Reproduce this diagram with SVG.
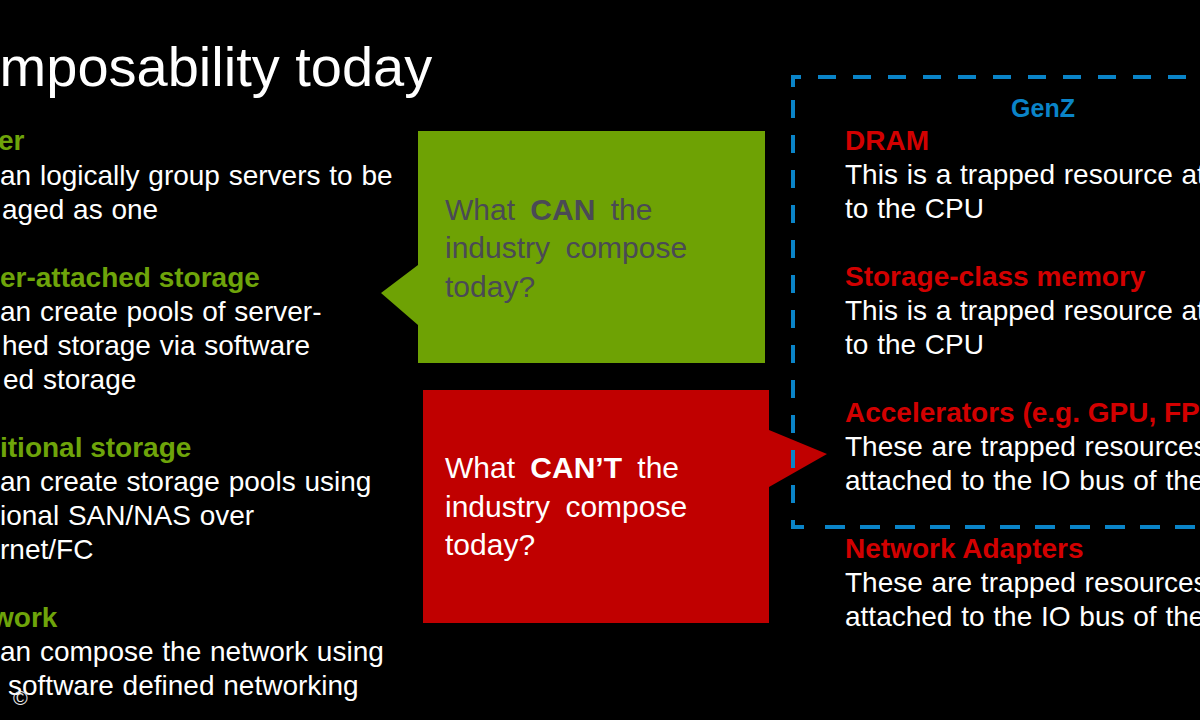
<svg xmlns="http://www.w3.org/2000/svg" width="1200" height="720" viewBox="0 0 1200 720">
<style>
text{font-family:"Liberation Sans",Arial,sans-serif}
.title{font-size:56px;fill:#ffffff}
.b{font-size:28px;fill:#ffffff;word-spacing:1px}
.gh{font-size:28px;font-weight:bold;fill:#6ea40a}
.rh{font-size:28px;font-weight:bold;fill:#d20000}
.q{font-size:30px;word-spacing:7px}
</style>
<rect x="0" y="0" width="1200" height="720" fill="#000000"/>
<g id="title"><text class="title" x="-72" y="86">Composability today</text></g>
<g id="left-list">
<text class="gh" x="-2" y="150">er</text>
<text class="b" x="0" y="185">an logically group servers to be</text>
<text class="b" x="2" y="219">aged as one</text>
<text class="gh" x="0" y="287">er-attached storage</text>
<text class="b" x="0" y="321">an create pools of server-</text>
<text class="b" x="2" y="355">hed storage via software</text>
<text class="b" x="3" y="389">ed storage</text>
<text class="gh" x="0" y="457">itional storage</text>
<text class="b" x="0" y="491">an create storage pools using</text>
<text class="b" x="0" y="525">ional SAN/NAS over</text>
<text class="b" x="0" y="559">rnet/FC</text>
<text class="gh" x="-8" y="627">work</text>
<text class="b" x="0" y="661">an compose the network using</text>
<text class="b" x="8" y="695">software defined networking</text>
<text x="13" y="705" style="font-size:20px;fill:#e8e8e8">©</text>
</g>
<g id="can-callout">
<path d="M418,131 H765 V363 H418 V325 L381,293 L418,265 Z" fill="#6ea204"/>
<text class="q" x="445" y="220" fill="#4a4a55">What <tspan font-weight="bold">CAN</tspan> the</text>
<text class="q" x="445" y="258" fill="#4a4a55">industry compose</text>
<text class="q" x="445" y="297" fill="#4a4a55">today?</text>
</g>
<g id="cant-callout">
<path d="M423,390 H769 V430 L827,454 L769,487 V623 H423 Z" fill="#c00000"/>
<text class="q" x="445" y="478" fill="#ffffff">What <tspan font-weight="bold">CAN’T</tspan> the</text>
<text class="q" x="445" y="517" fill="#ffffff">industry compose</text>
<text class="q" x="445" y="555" fill="#ffffff">today?</text>
</g>
<g id="connectors">
<path d="M793,87 V77 H1210" fill="none" stroke="#0a84c8" stroke-width="4" stroke-dasharray="18 17"/>
<path d="M793,100 V527 H810" fill="none" stroke="#0a84c8" stroke-width="4" stroke-dasharray="18 17"/>
<path d="M825,527 H1210" fill="none" stroke="#0a84c8" stroke-width="4" stroke-dasharray="20 15"/>
</g>
<g id="genz">
<text x="1043" y="117" text-anchor="middle" style="font-size:25px;font-weight:bold;fill:#0a84c8">GenZ</text>
</g>
<g id="right-list">
<text class="rh" x="845" y="150">DRAM</text>
<text class="b" x="845" y="184">This is a trapped resource at</text>
<text class="b" x="845" y="218">to the CPU</text>
<text class="rh" x="845" y="286">Storage-class memory</text>
<text class="b" x="845" y="320">This is a trapped resource at</text>
<text class="b" x="845" y="354">to the CPU</text>
<text class="rh" x="845" y="422">Accelerators (e.g. GPU, FPGA)</text>
<text class="b" x="845" y="456">These are trapped resources</text>
<text class="b" x="845" y="490">attached to the IO bus of the</text>
<text class="rh" x="845" y="558">Network Adapters</text>
<text class="b" x="845" y="592">These are trapped resources</text>
<text class="b" x="845" y="626">attached to the IO bus of the</text>
</g>
</svg>
